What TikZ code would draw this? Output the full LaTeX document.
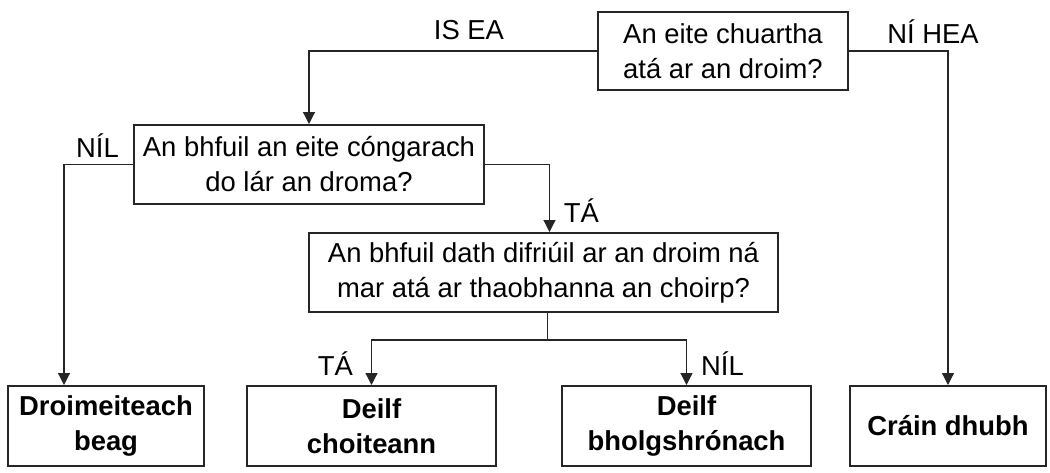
\documentclass[tikz,border=0pt]{standalone}
\usepackage{fontspec}
\setmainfont{Liberation Sans}
\usetikzlibrary{arrows.meta}

\begin{document}
\begin{tikzpicture}[x=0.5pt,y=-0.5pt,
    box/.style={draw=black!85,line width=1pt,align=center,inner sep=0pt,
      font=\fontsize{13.7}{17.5}\selectfont},
    endbox/.style={box,minimum height=40pt,font=\fontsize{13.7}{17.5}\selectfont\bfseries},
    arr/.style={draw=black!85,line width=0.6pt,-{Triangle[width=6pt,length=6pt]}},
    lbl/.style={anchor=base,inner sep=0pt,font=\fontsize{13.7}{17.5}\selectfont}]
  \useasboundingbox (0,0) rectangle (1050,472);

  \node[box,minimum width=125pt,minimum height=39pt] (q1) at (723,51)
    {An eite chuartha\\atá ar an droim?};
  \node[box,minimum width=175pt,minimum height=39.5pt] (q2) at (309,164.5)
    {An bhfuil an eite cóngarach\\do lár an droma?};
  \node[box,minimum width=234.5pt,minimum height=39.5pt] (q3) at (543.5,272.5)
    {An bhfuil dath difriúil ar an droim ná\\mar atá ar thaobhanna an choirp?};

  \node[endbox,minimum width=98pt] (droim) at (106,426) {Droimeiteach\\beag};
  \node[endbox,minimum width=124.5pt] (coit) at (371.5,426) {Deilf\\choiteann};
  \node[endbox,minimum width=124.5pt] (bolg) at (686.5,426) {Deilf\\bholgshrónach};
  \node[endbox,minimum width=98pt] (crain) at (948,426) {Cráin dhubh};

  \draw[arr] (q1.west) -| (q2.north);
  \draw[arr] (q1.east) -| (crain.north);
  \draw[arr] (q2.west) -| ([xshift=-21pt]droim.north);
  \draw[arr] (q2.east) -| ([xshift=3pt]q3.north);
  \draw[draw=black!85,line width=0.6pt] ([xshift=2pt]q3.south) -- ++(0,-13.5pt) coordinate (split);
  \draw[arr] (split) -| (coit.north);
  \draw[arr] (split) -| (bolg.north);

  \node[lbl] (isea) at (469,39) {IS EA};
  \node[lbl] (nihea) at (933,43) {NÍ HEA};
  \node[lbl] (nil1) at (97.5,157) {NÍL};
  \node[lbl] (ta1) at (581.5,222) {TÁ};
  \node[lbl] (ta2) at (335.5,375) {TÁ};
  \node[lbl] (nil2) at (722.5,375) {NÍL};
\end{tikzpicture}
\end{document}
